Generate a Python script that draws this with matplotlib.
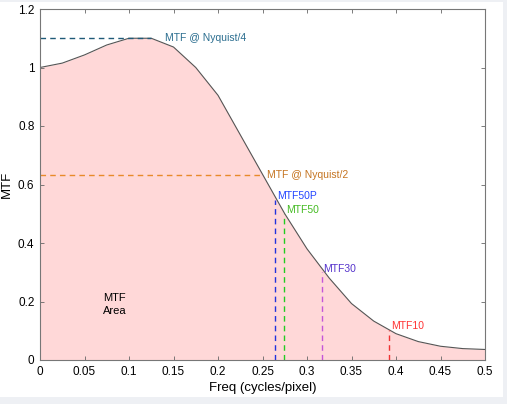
import numpy as np
import matplotlib
matplotlib.use("Agg")
import matplotlib.pyplot as plt
from matplotlib.patches import Rectangle

plt.rcParams['font.family'] = ['Liberation Sans', 'DejaVu Sans']

# MTF curve
freq = [0, 0.025, 0.05, 0.075, 0.1, 0.125, 0.15, 0.175, 0.2, 0.225, 0.25,
        0.275, 0.3, 0.325, 0.35, 0.375, 0.4, 0.425, 0.45, 0.475, 0.5]
mtf = [1.0, 1.015, 1.043, 1.077, 1.1, 1.1, 1.07, 1.0, 0.905, 0.77, 0.635,
       0.5, 0.38, 0.28, 0.193, 0.133, 0.09, 0.063, 0.047, 0.039, 0.036]

# horizontal markers: (label, freq, mtf)
nyq4 = ("MTF @ Nyquist/4", 0.125, 1.1)
nyq2 = ("MTF @ Nyquist/2", 0.25, 0.632)

# vertical markers
vnames = ["MTF50P", "MTF50", "MTF30", "MTF10"]
vfreq = [0.264, 0.2745, 0.3165, 0.392]
vmtf = [0.547, 0.5, 0.3, 0.103]
vline_colors = ["#2233dd", "#22cc22", "#c455d8", "#ee3333"]
vtext_colors = ["#2244ff", "#44bb22", "#5533cc", "#ff3333"]

xticks = [0, 0.05, 0.1, 0.15, 0.2, 0.25, 0.3, 0.35, 0.4, 0.45, 0.5]
xticklabels = ["0", "0.05", "0.1", "0.15", "0.2", "0.25", "0.3", "0.35", "0.4", "0.45", "0.5"]
yticks = [0, 0.2, 0.4, 0.6, 0.8, 1.0, 1.2]
yticklabels = ["0", "0.2", "0.4", "0.6", "0.8", "1", "1.2"]

fig = plt.figure(figsize=(5.07, 4.04), dpi=100, facecolor="#eef0f4")
bg = Rectangle((0, 7 / 404), 503 / 507, 395 / 404, transform=fig.transFigure,
               facecolor="white", edgecolor="none", zorder=-5)
fig.add_artist(bg)
ax = fig.add_axes([40 / 507, 44 / 404, 445 / 507, 351 / 404])

ax.fill_between(freq, mtf, 0, color="#ffd8d8", lw=0)
ax.plot(freq, mtf, color="#555555", lw=0.8)

ax.plot([0, nyq4[1]], [nyq4[2], nyq4[2]], ls=(0, (4, 3)), color="#1f5a78", lw=1)
ax.text(nyq4[1] + 0.015, nyq4[2], nyq4[0], color="#2a6d8f", fontsize=7.5, va="center")
ax.plot([0, nyq2[1]], [nyq2[2], nyq2[2]], ls=(0, (4, 3)), color="#e88a2a", lw=1)
ax.text(nyq2[1] + 0.005, nyq2[2], nyq2[0], color="#c57420", fontsize=7.5, va="center")

for name, f, m, lc, tc in zip(vnames, vfreq, vmtf, vline_colors, vtext_colors):
    ax.plot([f, f], [0, m], ls=(0, (4, 3)), color=lc, lw=1)
    ax.text(f + 0.002, m + 0.012, name, color=tc, fontsize=7.5, va="center")

ax.text(0.0705, 0.19, "MTF\nArea", fontsize=8, va="center", ha="left",
        multialignment="left", linespacing=1.3)

ax.set_xlim(0, 0.5)
ax.set_ylim(0, 1.2)
ax.set_xticks(xticks)
ax.set_xticklabels(xticklabels)
ax.set_yticks(yticks)
ax.set_yticklabels(yticklabels)
ax.tick_params(direction="in", top=True, right=True, length=3, width=0.6,
               color="#666666", labelsize=8.5, pad=4)
for s in ax.spines.values():
    s.set_color("#777777")
    s.set_linewidth(0.8)
ax.set_xlabel("Freq (cycles/pixel)", fontsize=9.5, labelpad=3)
ax.set_ylabel("MTF", fontsize=9.5, labelpad=4)

fig.savefig("out.png", dpi=100, facecolor=fig.get_facecolor())
